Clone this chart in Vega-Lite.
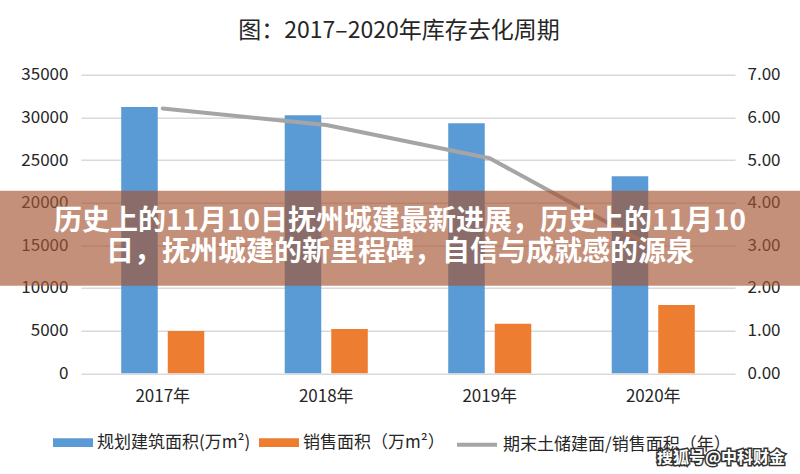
{
  "$schema": "https://vega.github.io/schema/vega-lite/v6.json",
  "width": 654,
  "height": 298.6,
  "autosize": {"type": "none"},
  "padding": {"left": 81, "top": 74.7, "right": 65, "bottom": 100.7},
  "background": "white",
  "config": {"font": "Noto Sans CJK SC", "view": {"stroke": null}},
  "title": {"text": "图：2017–2020年库存去化周期", "fontSize": 23, "fontWeight": "normal", "color": "#262626", "anchor": "middle", "dx": -9, "baseline": "bottom", "offset": 0, "font": "Noto Sans CJK SC"},
  "datasets": {
    "bars": [
      {"year": "2017年", "series": "规划建筑面积(万m²)", "value": 31200},
      {"year": "2017年", "series": "销售面积（万m²）", "value": 4950},
      {"year": "2018年", "series": "规划建筑面积(万m²)", "value": 30250},
      {"year": "2018年", "series": "销售面积（万m²）", "value": 5200},
      {"year": "2019年", "series": "规划建筑面积(万m²)", "value": 29300},
      {"year": "2019年", "series": "销售面积（万m²）", "value": 5800},
      {"year": "2020年", "series": "规划建筑面积(万m²)", "value": 23100},
      {"year": "2020年", "series": "销售面积（万m²）", "value": 8000}
    ],
    "ratio": [
      {"year": "2017年", "name": "期末土储建面/销售面积（年）", "value": 6.21},
      {"year": "2018年", "name": "期末土储建面/销售面积（年）", "value": 5.82},
      {"year": "2019年", "name": "期末土储建面/销售面积（年）", "value": 5.04},
      {"year": "2020年", "name": "期末土储建面/销售面积（年）", "value": 2.95}
    ],
    "banner": [{"y0": 10250, "y1": 21400}],
    "bannerText": [
      {"text": "历史上的11月10日抚州城建最新进展，历史上的11月10", "yv": 17700},
      {"text": "日，抚州城建的新里程碑，自信与成就感的源泉", "yv": 14150}
    ],
    "mark": [{"text": "搜狐号@中科财金"}]
  },
  "layer": [
    {
      "data": {"name": "bars"},
      "mark": {"type": "bar"},
      "encoding": {
        "x": {"field": "year", "type": "nominal", "sort": null,
              "scale": {"paddingInner": 0.492, "paddingOuter": 0.246},
              "axis": {"title": null, "domain": false, "ticks": false, "labelAngle": 0, "labelFontSize": 17, "labelColor": "#262626", "labelPadding": 15, "labelFont": "Noto Sans CJK SC"}},
        "xOffset": {"field": "series", "type": "nominal", "sort": null, "scale": {"paddingInner": 0.215}},
        "y": {"field": "value", "type": "quantitative",
              "scale": {"domain": [0, 35000], "nice": false},
              "axis": {"title": null, "values": [0, 5000, 10000, 15000, 20000, 25000, 30000, 35000], "format": "d", "domain": false, "ticks": false, "labelFontSize": 17, "labelColor": "#262626", "labelPadding": 13, "gridColor": "#d9d9d9", "gridWidth": 1.5}},
        "fill": {"field": "series", "type": "nominal", "sort": null,
                 "scale": {"domain": ["规划建筑面积(万m²)", "销售面积（万m²）"], "range": ["#5B9BD5", "#ED7D31"]},
                 "legend": {"title": null, "orient": "none", "legendX": -28, "legendY": 348, "direction": "horizontal", "symbolType": "M-1,-0.22H1V0.22H-1Z", "symbolSize": 1600, "symbolStrokeWidth": 0, "labelFontSize": 17, "labelColor": "#262626", "labelOffset": 4, "labelLimit": 300, "columnPadding": 8, "padding": 0}}
      }
    },
    {
      "data": {"name": "ratio"},
      "mark": {"type": "line", "strokeWidth": 4, "strokeCap": "round", "strokeJoin": "round"},
      "encoding": {
        "x": {"field": "year", "type": "nominal", "sort": null},
        "y": {"field": "value", "type": "quantitative",
              "scale": {"domain": [0, 7], "nice": false},
              "axis": {"orient": "right", "title": null, "values": [0, 1, 2, 3, 4, 5, 6, 7], "format": ".2f", "domain": false, "ticks": false, "grid": false, "labelFontSize": 17, "labelColor": "#262626", "labelPadding": 12}},
        "stroke": {"field": "name", "type": "nominal",
                   "scale": {"range": ["#A5A5A5"]},
                   "legend": {"title": null, "orient": "none", "legendX": 374, "legendY": 348, "symbolType": "stroke", "symbolSize": 1600, "symbolStrokeWidth": 4, "labelFontSize": 17, "labelColor": "#262626", "labelOffset": 4, "labelLimit": 400, "padding": 0}}
      }
    },
    {
      "data": {"name": "banner"},
      "mark": {"type": "rect", "color": "#A45533", "opacity": 0.65, "x": -81, "x2": 719},
      "encoding": {
        "y": {"field": "y0", "type": "quantitative", "scale": {"domain": [0, 35000], "nice": false}, "axis": null},
        "y2": {"field": "y1"}
      }
    },
    {
      "data": {"name": "bannerText"},
      "mark": {"type": "text", "color": "white", "fontSize": 28, "fontWeight": "bold", "font": "Noto Sans CJK SC", "baseline": "middle", "align": "center", "x": 319},
      "encoding": {
        "y": {"field": "yv", "type": "quantitative", "scale": {"domain": [0, 35000], "nice": false}, "axis": null},
        "text": {"field": "text"}
      }
    },
    {
      "data": {"name": "mark"},
      "mark": {"type": "text", "color": "#333333", "stroke": "#333333", "strokeWidth": 3, "fontSize": 16, "fontWeight": "bold", "align": "right", "baseline": "middle", "x": 704, "y": 383.5},
      "encoding": {"text": {"field": "text"}}
    },
    {
      "data": {"name": "mark"},
      "mark": {"type": "text", "color": "white", "fontSize": 16, "fontWeight": "bold", "align": "right", "baseline": "middle", "x": 704, "y": 383.5},
      "encoding": {"text": {"field": "text"}}
    }
  ],
  "resolve": {"scale": {"y": "independent"}}
}
